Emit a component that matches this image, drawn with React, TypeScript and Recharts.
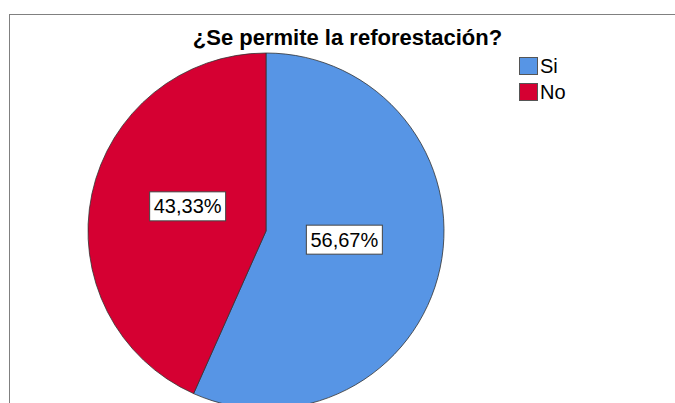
import React from "react";
import { PieChart, Pie, Cell, Legend } from "recharts";

// answers and their share of respondents (%)
const answers = ["Si", "No"];
const shares = [56.67, 43.33];
const sliceColors = ["#5795E5", "#D50032"];

const chartData = answers.map((name, i) => ({ name, value: shares[i] }));

const FONT = "'Liberation Sans', Arial, sans-serif";
const RADIAN = Math.PI / 180;

const formatPct = (p: number) => (p * 100).toFixed(2).replace(".", ",") + "%";

const BoxLabel = (props: any) => {
    const { cx, cy, midAngle, outerRadius, percent } = props;
    const r = outerRadius * 0.45;
    const x = cx + r * Math.cos(-midAngle * RADIAN);
    const y = cy + r * Math.sin(-midAngle * RADIAN) - 8;
    const w = 76;
    const h = 29;
    return (
        <g>
            <rect x={x - w / 2} y={y - h / 2} width={w} height={h} fill="#fff" stroke="#444" strokeWidth={1} />
            <text x={x} y={y + 7} textAnchor="middle" fontFamily={FONT} fontSize={20} fill="#000">
                {formatPct(percent)}
            </text>
        </g>
    );
};

// keep legend in data order (Si, No)
const LegendBox = ({ payload }: any) => {
    const items = [...(payload || [])].sort(
        (a: any, b: any) => answers.indexOf(a.value) - answers.indexOf(b.value)
    );
    return (
        <div style={{ fontFamily: FONT, fontSize: 20, color: "#000" }}>
            {items.map((entry: any) => (
                <div key={entry.value} style={{ display: "flex", alignItems: "center", height: 26 }}>
                    <span
                        style={{
                            display: "inline-block",
                            width: 17,
                            height: 16,
                            background: entry.color,
                            border: "1px solid #555",
                            marginRight: 2,
                        }}
                    />
                    <span>{entry.value}</span>
                </div>
            ))}
        </div>
    );
};

export default function App() {
    return (
        <div style={{ position: "absolute", left: 0, top: 0, width: 675, height: 403, background: "#fff", overflow: "hidden" }}>
            {/* frame lines */}
            <div style={{ position: "absolute", left: 9, top: 14, width: 666, height: 1, background: "#808080" }} />
            <div style={{ position: "absolute", left: 9, top: 14, width: 1, height: 389, background: "#808080" }} />
            <div
                style={{
                    position: "absolute",
                    left: 0,
                    width: 695,
                    top: 25,
                    textAlign: "center",
                    fontFamily: FONT,
                    fontWeight: "bold",
                    fontSize: 22,
                    color: "#000",
                }}
            >
                ¿Se permite la reforestación?
            </div>
            <PieChart
                width={675}
                height={403}
                margin={{ top: 0, right: 0, bottom: 0, left: 0 }}
                style={{ position: "absolute", left: 0, top: 0 }}
            >
                <Pie
                    data={chartData}
                    dataKey="value"
                    nameKey="name"
                    cx={266}
                    cy={231}
                    outerRadius={178}
                    startAngle={90}
                    endAngle={-270}
                    stroke="#333"
                    strokeWidth={0.8}
                    label={BoxLabel}
                    labelLine={false}
                    isAnimationActive={false}
                >
                    {chartData.map((d, i) => (
                        <Cell key={d.name} fill={sliceColors[i]} />
                    ))}
                </Pie>
                <Legend
                    layout="vertical"
                    verticalAlign="middle"
                    align="right"
                    content={<LegendBox />}
                    wrapperStyle={{ position: "absolute", left: 519, top: 53, width: 80 }}
                />
            </PieChart>
        </div>
    );
}
